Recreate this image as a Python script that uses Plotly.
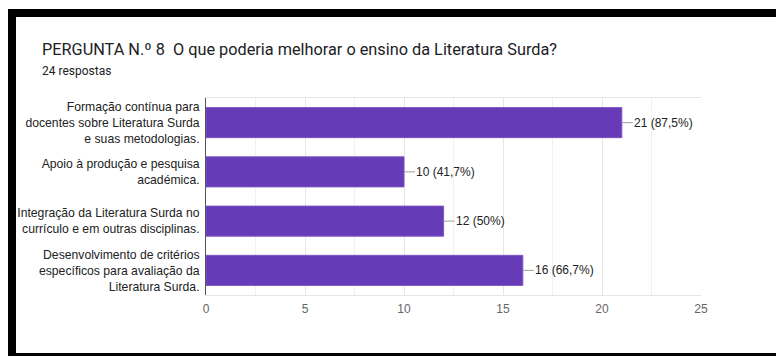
import plotly.graph_objects as go

categories = [
    "Formação contínua para<br>docentes sobre Literatura Surda<br>e suas metodologias.",
    "Apoio à produção e pesquisa<br>académica.",
    "Integração da Literatura Surda no<br>currículo e em outras disciplinas.",
    "Desenvolvimento de critérios<br>específicos para avaliação da<br>Literatura Surda.",
]
counts = [21, 10, 12, 16]
percent_labels = ["87,5%", "41,7%", "50%", "66,7%"]
x_ticks = [0, 5, 10, 15, 20, 25]

W, H = 776, 356
L, R, T, B = 206, 75, 98, 61
PW, PH = W - L - R, H - T - B


def px(x):
    return (x - L) / PW


def py(y):
    return (H - B - y) / PH


fig = go.Figure()
fig.add_trace(go.Bar(
    y=categories, x=counts, orientation="h",
    marker=dict(color="#673ab7", line=dict(color="#7b55c4", width=1)),
    hoverinfo="skip",
))

for c, v, p in zip(categories, counts, percent_labels):
    fig.add_annotation(
        x=v, y=c, xref="x", yref="y",
        text=f"{v} ({p})", showarrow=True, arrowhead=0, arrowwidth=1,
        arrowcolor="#9e9e9e", ax=11, ay=0, xanchor="left", standoff=0,
        borderpad=0,
        font=dict(family="Liberation Sans, Arial", size=12, color="#222222"),
    )

fig.add_annotation(
    x=px(40), y=py(50), xref="paper", yref="paper", xanchor="left", yanchor="middle",
    text="PERGUNTA N.º 8  O que poderia melhorar o ensino da Literatura Surda?",
    showarrow=False, font=dict(family="Roboto", size=16.3, color="#202124"),
)
fig.add_annotation(
    x=px(40), y=py(71), xref="paper", yref="paper", xanchor="left", yanchor="middle",
    text="24 respostas", showarrow=False,
    font=dict(family="Roboto", size=12, color="#202124"),
)

black = "#000000"
shapes = [
    dict(x0=px(8), x1=px(776), y0=py(9), y1=py(17)),
    dict(x0=px(8), x1=px(16), y0=py(9), y1=py(356)),
    dict(x0=px(16), x1=px(776), y0=py(353), y1=py(356)),
]
for s in shapes:
    fig.add_shape(type="rect", xref="paper", yref="paper", fillcolor=black,
                  line=dict(width=0), layer="above", **s)

fig.update_layout(
    width=W, height=H, margin=dict(l=L, r=R, t=T, b=B),
    paper_bgcolor="white", plot_bgcolor="white",
    bargap=0.39, showlegend=False,
    xaxis=dict(
        range=[0, 25], tickvals=x_ticks, ticktext=[str(t) for t in x_ticks],
        showgrid=True, gridcolor="#e6e6e6", gridwidth=1,
        minor=dict(dtick=2.5, showgrid=True, gridcolor="#f0f0f0", gridwidth=1),
        showline=True, mirror=True, linecolor="#e6e6e6", linewidth=1,
        zeroline=False, ticks="", ticklabelstandoff=3,
        tickfont=dict(family="Liberation Sans, Arial", size=12, color="#666666"),
        fixedrange=True,
    ),
    yaxis=dict(
        autorange="reversed", showgrid=False, showline=True,
        linecolor="#555555", linewidth=1, ticks="", ticklabelstandoff=3,
        tickfont=dict(family="Liberation Sans, Arial", size=12.2, color="#222222"),
        fixedrange=True,
    ),
)

fig.write_html("out.html")
